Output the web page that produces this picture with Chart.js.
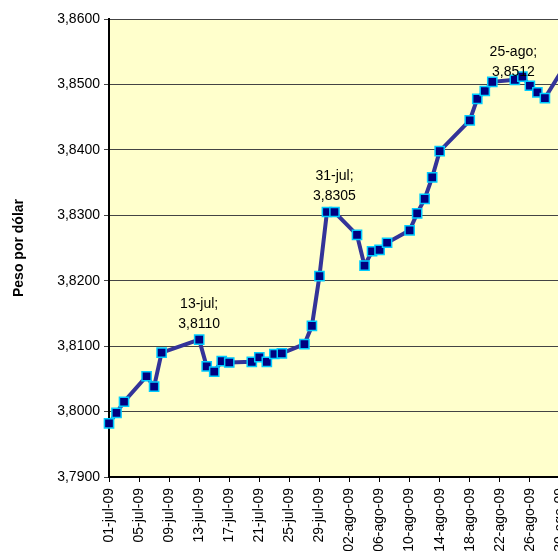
<!DOCTYPE html>
<html lang="es">
<head>
<meta charset="utf-8">
<title>Peso por dólar</title>
<script src="https://cdn.jsdelivr.net/npm/chart.js@4.4.1/dist/chart.umd.min.js"></script>
<style>
  html, body { margin: 0; padding: 0; background: #fff; overflow: hidden; }
  #contenedor { position: absolute; left: 0; top: 0; width: 620px; height: 600px; }
</style>
</head>
<body>
<div id="contenedor"><canvas id="grafico" width="620" height="600"></canvas></div>
<script>
// Cotizacion diaria (solo dias habiles), julio-agosto 2009
const fechas = [
  '2009-07-01', '2009-07-02', '2009-07-03', '2009-07-06', '2009-07-07', '2009-07-08',
  '2009-07-13', '2009-07-14', '2009-07-15', '2009-07-16', '2009-07-17',
  '2009-07-20', '2009-07-21', '2009-07-22', '2009-07-23', '2009-07-24',
  '2009-07-27', '2009-07-28', '2009-07-29', '2009-07-30', '2009-07-31',
  '2009-08-03', '2009-08-04', '2009-08-05', '2009-08-06', '2009-08-07',
  '2009-08-10', '2009-08-11', '2009-08-12', '2009-08-13', '2009-08-14',
  '2009-08-18', '2009-08-19', '2009-08-20', '2009-08-21',
  '2009-08-24', '2009-08-25', '2009-08-26', '2009-08-27', '2009-08-28',
  '2009-08-31'
];
const valores = [
  3.7982, 3.7998, 3.8015, 3.8054, 3.8038, 3.8090,
  3.8110, 3.8069, 3.8061, 3.8077, 3.8075,
  3.8076, 3.8083, 3.8076, 3.8088, 3.8089,
  3.8103, 3.8131, 3.8207, 3.8305, 3.8305,
  3.8270, 3.8223, 3.8245, 3.8247, 3.8258,
  3.8277, 3.8303, 3.8325, 3.8358, 3.8398,
  3.8445, 3.8478, 3.8490, 3.8504,
  3.8507, 3.8512, 3.8498, 3.8488, 3.8479,
  3.8535
];
// Puntos que llevan etiqueta "fecha; valor"
const destacados = ['2009-07-13', '2009-07-31', '2009-08-25'];
const meses = ['ene', 'feb', 'mar', 'abr', 'may', 'jun', 'jul', 'ago', 'sep', 'oct', 'nov', 'dic'];

const FUENTE = '"Liberation Sans", Arial, sans-serif';
const INICIO = Date.UTC(2009, 6, 1);
const DIA = 86400000;

function diasDesdeInicio(iso) {
  const [a, m, d] = iso.split('-').map(Number);
  return Math.round((Date.UTC(a, m - 1, d) - INICIO) / DIA);
}

function fechaCorta(dias, conAnio) {
  const f = new Date(INICIO + dias * DIA);
  const dd = String(f.getUTCDate()).padStart(2, '0');
  let txt = dd + '-' + meses[f.getUTCMonth()];
  if (conAnio) txt += '-' + String(f.getUTCFullYear()).slice(2);
  return txt;
}

function formatoValor(v) {
  return v.toFixed(4).replace('.', ',');
}

const puntos = fechas.map((f, i) => ({ x: diasDesdeInicio(f), y: valores[i] }));

// Fondo amarillo del area de trazado
const fondo = {
  id: 'fondo',
  beforeDraw(chart) {
    const { ctx, chartArea: a } = chart;
    ctx.save();
    ctx.fillStyle = '#FFFFCC';
    ctx.fillRect(a.left, a.top, a.right - a.left, a.bottom - a.top);
    ctx.restore();
  }
};

// Etiquetas sobre los puntos destacados
const etiquetas = {
  id: 'etiquetas',
  afterDatasetsDraw(chart) {
    const { ctx } = chart;
    const meta = chart.getDatasetMeta(0);
    ctx.save();
    ctx.font = '14px ' + FUENTE;
    ctx.fillStyle = '#000';
    ctx.textAlign = 'center';
    ctx.textBaseline = 'alphabetic';
    destacados.forEach(f => {
      const i = fechas.indexOf(f);
      if (i < 0) return;
      const p = meta.data[i];
      // la ultima etiqueta queda corrida hacia la izquierda y abajo
      const dx = f === '2009-08-25' ? -9 : 0;
      const dy = f === '2009-08-25' ? 11 : 0;
      ctx.fillText(fechaCorta(puntos[i].x, false) + ';', p.x + dx, p.y - 32 + dy);
      ctx.fillText(formatoValor(valores[i]), p.x + dx, p.y - 12 + dy);
    });
    ctx.restore();
  }
};

new Chart(document.getElementById('grafico').getContext('2d'), {
  type: 'line',
  data: {
    datasets: [{
      data: puntos,
      clip: false,
      borderColor: '#333399',
      borderWidth: 4,
      tension: 0,
      pointStyle: 'rect',
      pointRadius: 6.5,
      pointBackgroundColor: '#000080',
      pointBorderColor: '#00CCFF',
      pointBorderWidth: 1.5
    }]
  },
  options: {
    responsive: false,
    animation: false,
    devicePixelRatio: 1,
    layout: { padding: { top: 19, right: 30, left: 0, bottom: 0 } },
    plugins: {
      legend: { display: false },
      tooltip: { enabled: false }
    },
    scales: {
      x: {
        type: 'linear',
        min: 0,
        max: 64,
        afterFit: s => { s.height = 123; },
        ticks: {
          stepSize: 4,
          autoSkip: false,
          minRotation: 90,
          maxRotation: 90,
          padding: 6,
          color: '#000',
          font: { family: FUENTE, size: 14 },
          callback: v => fechaCorta(v, true)
        },
        grid: { display: true, drawOnChartArea: false, drawTicks: true, tickLength: 5, color: '#000' },
        border: { display: true, color: '#000', width: 2 }
      },
      y: {
        min: 3.79,
        max: 3.86,
        afterFit: s => { s.width = 109; },
        ticks: {
          stepSize: 0.01,
          padding: 4,
          color: '#000',
          font: { family: FUENTE, size: 14 },
          callback: v => formatoValor(v)
        },
        grid: { color: '#444', lineWidth: 1, drawTicks: true, tickLength: 5 },
        border: { color: '#000', width: 2 },
        title: {
          display: true,
          text: 'Peso por dólar',
          color: '#000',
          font: { family: FUENTE, size: 14, weight: 'bold' },
          padding: { top: 11, bottom: 0 }
        }
      }
    }
  },
  plugins: [fondo, etiquetas]
});
</script>
</body>
</html>
